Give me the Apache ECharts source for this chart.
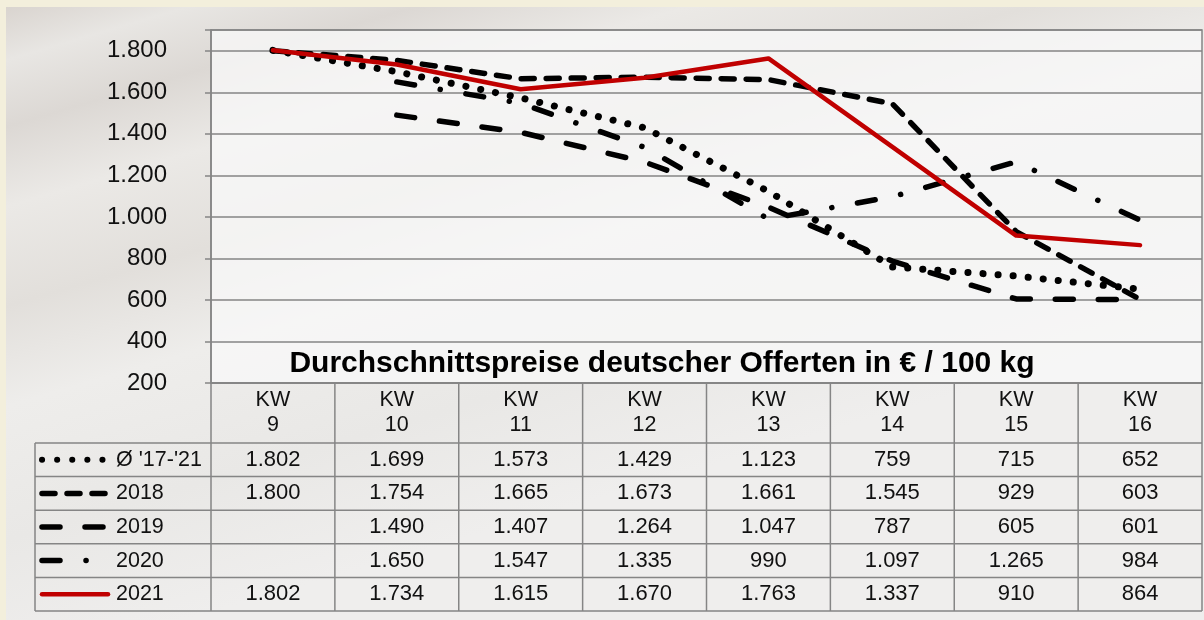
<!DOCTYPE html>
<html>
<head>
<meta charset="utf-8">
<script src="https://cdn.jsdelivr.net/npm/echarts@6/dist/echarts.min.js"></script>
<style>
  html, body { margin: 0; padding: 0; background: #f3efdc; }
  #chart { width: 1204px; height: 620px; }
</style>
</head>
<body>
<div id="chart"></div>
<script>
const weeks = ['9', '10', '11', '12', '13', '14', '15', '16'];
const seriesNames = ["Ø '17-'21", '2018', '2019', '2020', '2021'];
const avg1721 = [1802, 1699, 1573, 1429, 1123, 759, 715, 652];
const y2018 = [1800, 1754, 1665, 1673, 1661, 1545, 929, 603];
const y2019 = [null, 1490, 1407, 1264, 1047, 787, 605, 601];
const y2020 = [null, 1650, 1547, 1335, 990, 1097, 1265, 984];
const y2021 = [1802, 1734, 1615, 1670, 1763, 1337, 910, 864];
const yMin = 200, yMax = 1900, yStep = 200;
const title = 'Durchschnittspreise deutscher Offerten in € / 100 kg';

const allValues = [avg1721, y2018, y2019, y2020, y2021];

// line looks (Excel dash types)
const lineLooks = [
    { color: '#000', width: 7, type: [0.1, 15] },
    { color: '#000', width: 5.5, type: [13, 12] },
    { color: '#000', width: 5.5, type: [18, 25] },
    { color: '#000', width: 5.5, type: [18, 26, 0.1, 26] },
    { color: '#c00000', width: 4.5, type: 'solid' }
];

const fmt = (v) => v == null ? '' : String(v).replace(/\B(?=(\d{3})+(?!\d))/g, '.');

const W = 1204, H = 620;
const gridL = 211, gridR = 1202, gridT = 30, gridB = 383;
const tableL = 35, rowTop = 443, rowH = 33.6;
const colW = (gridR - gridL) / weeks.length;
const tableBottom = rowTop + seriesNames.length * rowH;
const gridColor = '#858585';
const font = 'Liberation Sans, Arial, sans-serif';

const graphics = [];
// beige frame + marble-like backdrop
graphics.push({
    type: 'rect', z: -10, silent: true,
    shape: { x: 6, y: 7, width: W - 6, height: H - 7 },
    style: {
        fill: new echarts.graphic.LinearGradient(0, 0, 0.15, 1, [
            { offset: 0, color: '#d9d4cf' },
            { offset: 0.08, color: '#e8e6e3' },
            { offset: 0.18, color: '#dcd8d4' },
            { offset: 0.3, color: '#ebe9e6' },
            { offset: 0.45, color: '#e2dfdb' },
            { offset: 0.6, color: '#eeedeb' },
            { offset: 0.8, color: '#e9e8e6' },
            { offset: 1, color: '#efeeed' }
        ])
    }
});

const gline = (x1, y1, x2, y2) => ({
    type: 'line', silent: true,
    shape: { x1: x1, y1: y1, x2: x2, y2: y2 },
    style: { stroke: gridColor, lineWidth: 1.5 }
});

// table grid lines
for (let i = 0; i <= seriesNames.length; i++) {
    const y = rowTop + i * rowH;
    graphics.push(gline(tableL, y, gridR, y));
}
graphics.push(gline(tableL, rowTop, tableL, tableBottom));
for (let j = 0; j <= weeks.length; j++) {
    const x = gridL + j * colW;
    graphics.push(gline(x, gridB, x, tableBottom));
}

// legend keys + values in the table
seriesNames.forEach((name, i) => {
    const cy = rowTop + (i + 0.5) * rowH;
    const look = lineLooks[i];
    graphics.push({
        type: 'line', silent: true,
        shape: { x1: 42, y1: cy, x2: 108, y2: cy },
        style: {
            stroke: look.color, lineWidth: Math.min(look.width, 6), lineCap: 'round',
            lineDash: look.type === 'solid' ? null : look.type
        }
    });
    graphics.push({
        type: 'text', silent: true, x: 116, y: cy,
        style: { text: name, font: '21.5px ' + font, fill: '#111', verticalAlign: 'middle', align: 'left' }
    });
    allValues[i].forEach((v, j) => {
        graphics.push({
            type: 'text', silent: true, x: gridL + (j + 0.5) * colW, y: cy,
            style: { text: fmt(v), font: '22px ' + font, fill: '#111', verticalAlign: 'middle', align: 'center' }
        });
    });
});

// title inside the plot
graphics.push({
    type: 'text', silent: true, x: 662, y: 364, z: 10,
    style: { text: title, font: 'bold 30px ' + font, fill: '#000', align: 'center', verticalAlign: 'middle' }
});

const chart = echarts.init(document.getElementById('chart'));
chart.setOption({
    animation: false,
    backgroundColor: 'transparent',
    graphic: graphics,
    grid: {
        left: gridL, right: W - gridR, top: gridT, bottom: H - gridB,
        show: true, backgroundColor: 'rgba(248,248,247,0.8)',
        borderColor: gridColor, borderWidth: 1.5
    },
    xAxis: {
        type: 'category',
        data: weeks,
        boundaryGap: true,
        axisLine: { lineStyle: { color: gridColor, width: 1.5 } },
        axisTick: { show: false },
        axisLabel: {
            margin: 5, color: '#111', fontSize: 21.5, fontFamily: font, lineHeight: 25,
            formatter: (v) => 'KW\n' + v
        }
    },
    yAxis: {
        type: 'value',
        min: yMin, max: yMax, interval: yStep,
        axisLine: { show: true, lineStyle: { color: gridColor, width: 1.5 } },
        axisTick: { show: true, length: 6, lineStyle: { color: gridColor, width: 1.5 } },
        splitLine: { lineStyle: { color: gridColor, width: 1.5 } },
        axisLabel: {
            margin: 44, color: '#111', fontSize: 24, fontFamily: font,
            formatter: (v) => v > 1800 ? '' : fmt(v)
        }
    },
    series: seriesNames.map((name, i) => ({
        name: name,
        type: 'line',
        data: allValues[i],
        showSymbol: false,
        connectNulls: false,
        lineStyle: {
            color: lineLooks[i].color,
            width: lineLooks[i].width,
            type: lineLooks[i].type,
            cap: 'round',
            join: 'round'
        }
    }))
});
</script>
</body>
</html>
